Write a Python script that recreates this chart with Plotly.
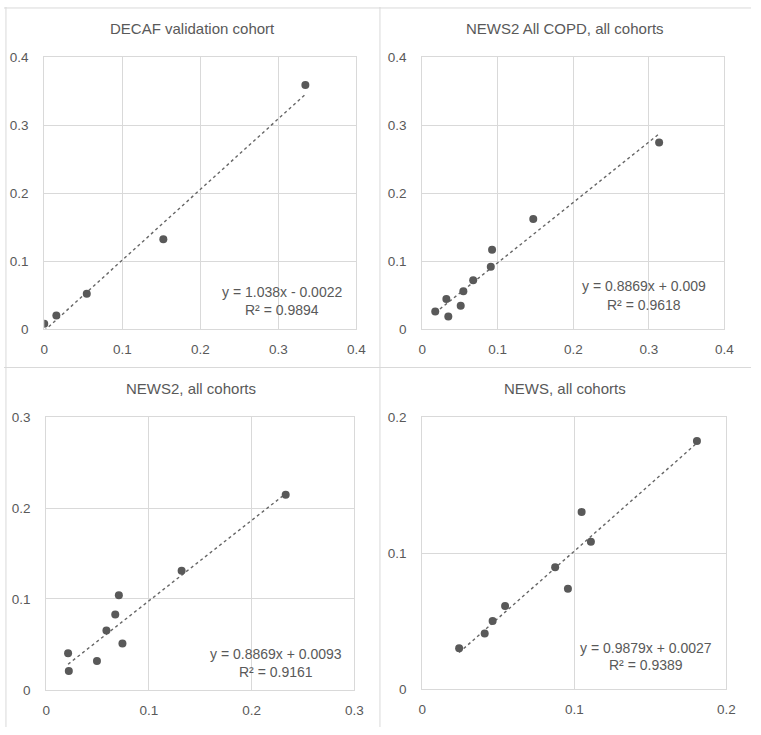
import plotly.graph_objects as go

# ---- data ----
titles = ["DECAF validation cohort", "NEWS2 All COPD, all cohorts",
          "NEWS2, all cohorts", "NEWS, all cohorts"]

decaf_x = [0.000, 0.0155, 0.0545, 0.1526, 0.3346]
decaf_y = [0.0081, 0.0201, 0.0522, 0.1322, 0.3588]

copd_x = [0.0173, 0.0320, 0.0346, 0.0510, 0.0545, 0.0675, 0.0908, 0.0925, 0.1470, 0.3135]
copd_y = [0.0263, 0.0446, 0.0187, 0.0345, 0.0560, 0.0719, 0.0920, 0.1169, 0.1619, 0.2745]

news2_x = [0.0213, 0.0220, 0.0494, 0.0586, 0.0672, 0.0707, 0.0742, 0.1318, 0.2331]
news2_y = [0.0402, 0.0208, 0.0316, 0.0654, 0.0830, 0.1042, 0.0510, 0.1311, 0.2149]

news_x = [0.0243, 0.0411, 0.0463, 0.0545, 0.0874, 0.0958, 0.1048, 0.1109, 0.1806]
news_y = [0.0298, 0.0408, 0.0499, 0.0610, 0.0896, 0.0737, 0.1304, 0.1083, 0.1827]

slopes = [1.038, 0.8869, 0.8869, 0.9879]
intercepts = [-0.0022, 0.009, 0.0093, 0.0027]
eq_labels = ["y = 1.038x - 0.0022", "y = 0.8869x + 0.009",
             "y = 0.8869x + 0.0093", "y = 0.9879x + 0.0027"]
r2_labels = ["R² = 0.9894", "R² = 0.9618", "R² = 0.9161", "R² = 0.9389"]
axis_max = [0.4, 0.4, 0.3, 0.2]

series = [(decaf_x, decaf_y), (copd_x, copd_y), (news2_x, news2_y), (news_x, news_y)]

# ---- layout geometry (pixels in 761x735) ----
W, H = 761, 735
plot_boxes = [(41, 359, 51, 329), (426, 734, 51, 329),
              (43, 357, 419, 697), (426, 736, 419, 696)]
title_pos = [(192, 22), (572, 22), (191, 389), (572, 389)]
eq_pos = [(283, 291, 309), (652, 285, 304), (277, 660, 679), (654, 654, 672)]

TXT = "#595959"
GRID = "#d9d9d9"
FONT = "Liberation Sans, Arial, sans-serif"

fig = go.Figure()
annotations = []
for i, ((xs, ys), (x0, x1, y0, y1)) in enumerate(zip(series, plot_boxes)):
    n = "" if i == 0 else str(i + 1)
    xa, ya = "x" + n, "y" + n
    lx = [min(xs), max(xs)]
    ly = [slopes[i] * v + intercepts[i] for v in lx]
    fig.add_trace(go.Scatter(x=lx, y=ly, mode="lines",
                             line=dict(color="#666666", width=1.4, dash="dot"),
                             xaxis=xa, yaxis=ya, showlegend=False))
    fig.add_trace(go.Scatter(x=xs, y=ys, mode="markers",
                             marker=dict(color=TXT, size=8),
                             xaxis=xa, yaxis=ya, showlegend=False))
    m = axis_max[i]
    common = dict(range=[0, m], dtick=0.1, showgrid=True, gridcolor=GRID, gridwidth=1,
                  zeroline=False, showline=True, linecolor=GRID, linewidth=1, mirror=True,
                  tickfont=dict(family=FONT, size=13.5, color=TXT), ticks="",
                  fixedrange=True)
    fig.layout["xaxis" + n] = dict(domain=[x0 / W, x1 / W], anchor=ya,
                                   ticklabelstandoff=8, **common)
    fig.layout["yaxis" + n] = dict(domain=[1 - y1 / H, 1 - y0 / H], anchor=xa,
                                   ticklabelstandoff=12, **common)
    tx, ty = title_pos[i]
    annotations.append(dict(text=titles[i], x=tx / W, y=1 - ty / H, xref="paper", yref="paper",
                            showarrow=False, xanchor="center", yanchor="middle",
                            font=dict(family=FONT, size=15, color=TXT)))
    ex, ey1, ey2 = eq_pos[i]
    annotations.append(dict(text=eq_labels[i], x=ex / W, y=1 - ey1 / H, xref="paper", yref="paper",
                            showarrow=False, xanchor="center", yanchor="middle",
                            font=dict(family=FONT, size=14, color=TXT)))
    annotations.append(dict(text=r2_labels[i], x=ex / W, y=1 - ey2 / H, xref="paper", yref="paper",
                            showarrow=False, xanchor="center", yanchor="middle",
                            font=dict(family=FONT, size=14, color=TXT)))

shapes = []
for xp in [2, 383]:
    shapes.append(dict(type="line", xref="paper", yref="paper", x0=xp / W, x1=xp / W,
                       y0=0, y1=1, line=dict(color=GRID, width=1)))
for yp in [1, 368]:
    shapes.append(dict(type="line", xref="paper", yref="paper", x0=0, x1=1,
                       y0=1 - yp / H, y1=1 - yp / H, line=dict(color=GRID, width=1)))

fig.update_layout(width=W, height=H, margin=dict(l=0, r=0, t=0, b=0),
                  paper_bgcolor="white", plot_bgcolor="white",
                  annotations=annotations, shapes=shapes)

post = ("var s=document.documentElement.style;s.margin='0';s.padding='0';s.overflow='hidden';"
        "var b=document.body.style;b.margin='0';b.padding='0';b.overflow='hidden';"
        "var g=document.getElementById('{plot_id}');g.style.position='fixed';"
        "g.style.left='0px';g.style.top='0px';")
fig.write_html("out.html", config={"displayModeBar": False}, post_script=post)
